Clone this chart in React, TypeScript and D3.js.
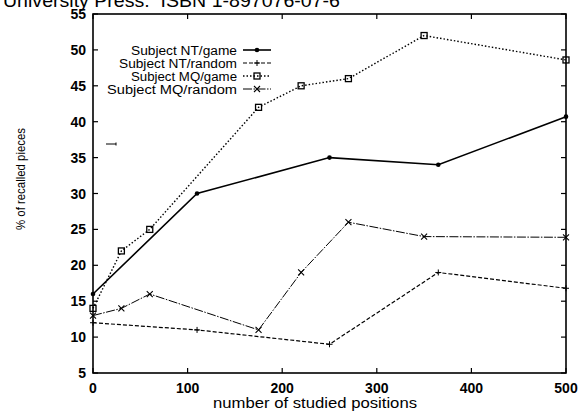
import React from "react";
import * as d3 from "d3";

const xTicks = [0, 100, 200, 300, 400, 500];
const yTicks = [5, 10, 15, 20, 25, 30, 35, 40, 45, 50, 55];

const ntGameX = [0, 110, 250, 365, 500];
const ntGameY = [16, 30, 35, 34, 40.7];
const ntRandX = [0, 110, 250, 365, 500];
const ntRandY = [12, 11, 9, 19, 16.8];
const mqGameX = [0, 30, 60, 175, 220, 270, 350, 500];
const mqGameY = [14, 22, 25, 42, 45, 46, 52, 48.6];
const mqRandX = [0, 30, 60, 175, 220, 270, 350, 500];
const mqRandY = [13, 14, 16, 11, 19, 26, 24, 23.9];

const seriesNames = ["Subject NT/game", "Subject NT/random", "Subject MQ/game", "Subject MQ/random"];
const legendWidths = [106, 118, 106, 130];

const W = 579, H = 414;
const L = 93, R = 566, T = 14, B = 373;

export default function App() {
  const x = d3.scaleLinear().domain([0, 500]).range([L, R]);
  const y = d3.scaleLinear().domain([5, 55]).range([B, T]);
  const line = d3.line<[number, number]>().x(d => x(d[0])).y(d => y(d[1]));
  const zip = (a: number[], b: number[]) => a.map((v, i) => [v, b[i]] as [number, number]);

  const series = [
    { name: seriesNames[0], pts: zip(ntGameX, ntGameY), dash: "", w: 1.6, marker: "dot" },
    { name: seriesNames[1], pts: zip(ntRandX, ntRandY), dash: "4,2", w: 1.2, marker: "plus" },
    { name: seriesNames[2], pts: zip(mqGameX, mqGameY), dash: "1.5,2", w: 1.4, marker: "square" },
    { name: seriesNames[3], pts: zip(mqRandX, mqRandY), dash: "9,1.5,1.5,1.5", w: 1, marker: "cross" },
  ];

  const marker = (m: string, cx: number, cy: number, k: string) => {
    if (m === "dot") return <circle key={k} cx={cx} cy={cy} r={2.3} fill="#000" />;
    if (m === "plus") return <path key={k} d={`M${cx - 3},${cy}H${cx + 3}M${cx},${cy - 3}V${cy + 3}`} stroke="#000" strokeWidth={1} />;
    if (m === "square") return <rect key={k} x={cx - 3} y={cy - 3} width={6} height={6} fill="none" stroke="#000" strokeWidth={1.3} />;
    return <path key={k} d={`M${cx - 3},${cy - 3}L${cx + 3},${cy + 3}M${cx - 3},${cy + 3}L${cx + 3},${cy - 3}`} stroke="#000" strokeWidth={1.1} />;
  };

  const font = "'Liberation Sans', Arial, sans-serif";
  const legendRows = [50, 63, 76, 89];

  return (
    <svg width={W} height={H} style={{ position: "absolute", left: 0, top: 0, background: "#fff" }} fontFamily={font}>
      <rect x={0} y={0} width={W} height={H} fill="#fff" />
      <text x={3} y={7} fontSize={19} fill="#000" textLength={337} lengthAdjust="spacingAndGlyphs" style={{ whiteSpace: "pre" }}>University Press.  ISBN 1-897076-07-6</text>
      {/* frame */}
      <rect x={L} y={T} width={R - L} height={B - T} fill="none" stroke="#000" strokeWidth={1.6} />
      {/* ticks */}
      {xTicks.map(t => (
        <g key={"xt" + t}>
          <line x1={x(t)} x2={x(t)} y1={B} y2={B - 5} stroke="#000" strokeWidth={1.2} />
          <line x1={x(t)} x2={x(t)} y1={T} y2={T + 5} stroke="#000" strokeWidth={1.2} />
          <text x={x(t)} y={393} fontSize={14} textAnchor="middle" fontWeight="bold" fill="#000">{t}</text>
        </g>
      ))}
      {yTicks.map(t => (
        <g key={"yt" + t}>
          <line x1={L} x2={L + 5} y1={y(t)} y2={y(t)} stroke="#000" strokeWidth={1.2} />
          <line x1={R} x2={R - 5} y1={y(t)} y2={y(t)} stroke="#000" strokeWidth={1.2} />
          <text x={86} y={y(t) + 5} fontSize={14} textAnchor="end" fontWeight="bold" fill="#000">{t}</text>
        </g>
      ))}
      {/* axis titles */}
      <text x={213} y={408} fontSize={14} textLength={204} lengthAdjust="spacingAndGlyphs" fill="#000">number of studied positions</text>
      <text transform={`translate(25,230) rotate(-90)`} fontSize={13} textLength={102} lengthAdjust="spacingAndGlyphs" fill="#000">% of recalled pieces</text>
      {/* stray mark */}
      <path d="M106,144H116M116,142.5V145.5" stroke="#000" strokeWidth={1} />
      {/* series */}
      {series.map((s) => (
        <g key={s.name}>
          <path d={line(s.pts) || ""} fill="none" stroke="#000" strokeWidth={s.w} strokeDasharray={s.dash} />
          {s.pts.map((p, j) => marker(s.marker, x(p[0]), y(p[1]), s.name + j))}
        </g>
      ))}
      {/* legend */}
      {series.map((s, i) => (
        <g key={"lg" + i}>
          <text x={237 - legendWidths[i]} y={legendRows[i] + 4.5} fontSize={12.5} textLength={legendWidths[i]} lengthAdjust="spacingAndGlyphs" fill="#000">{s.name}</text>
          <line x1={243} x2={271} y1={legendRows[i]} y2={legendRows[i]} stroke="#000" strokeWidth={s.w} strokeDasharray={s.dash} />
          {marker(s.marker, 257, legendRows[i], "lm" + i)}
        </g>
      ))}
    </svg>
  );
}
